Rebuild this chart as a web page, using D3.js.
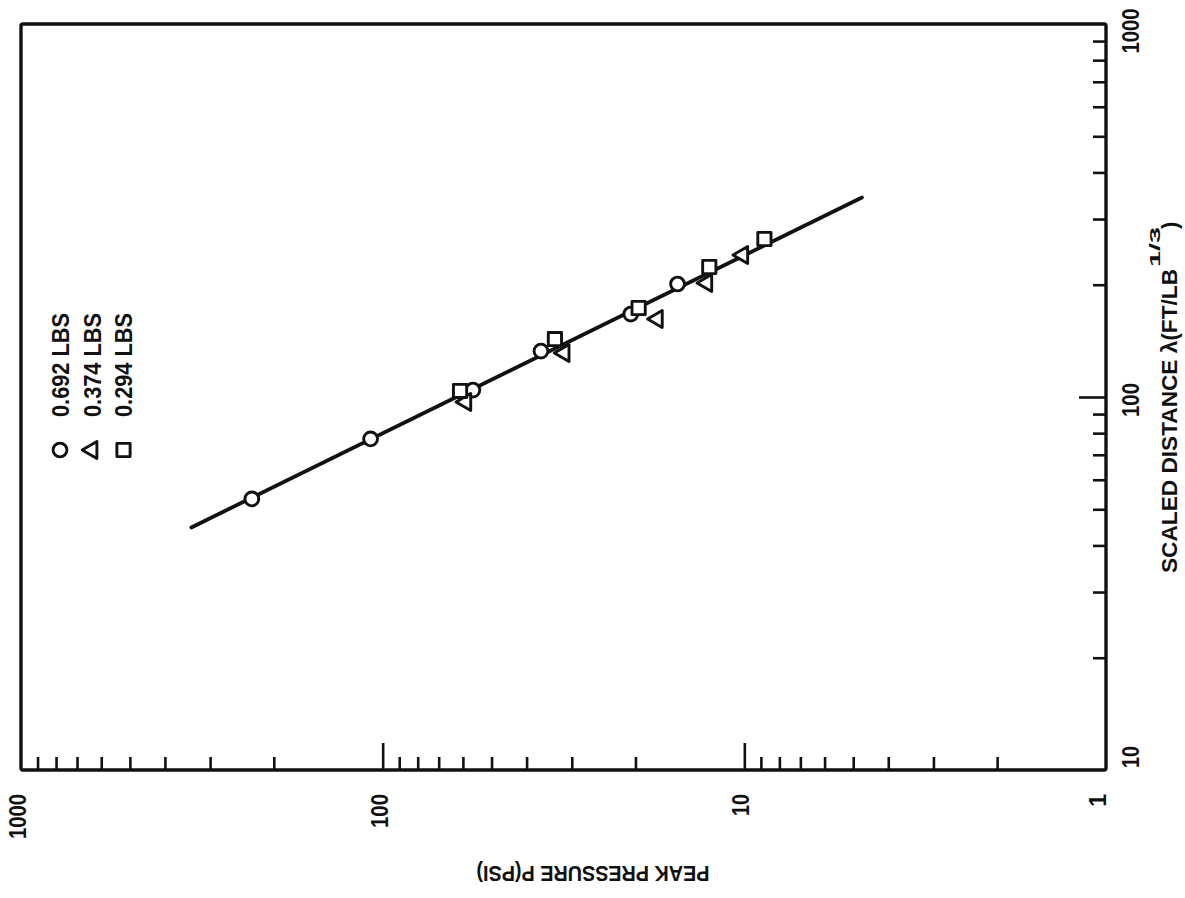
<!DOCTYPE html>
<html>
<head>
<meta charset="utf-8">
<script src="https://cdn.jsdelivr.net/npm/d3@7"></script>
<style>
  html, body { margin: 0; background: #fff; }
  svg { display: block; }
  text { font-family: "Liberation Sans", Arial, sans-serif; font-weight: bold; fill: #111; }
</style>
</head>
<body>
<svg id="chart" width="1185" height="898"></svg>
<script>
// Peak pressure vs scaled distance, laid out sideways:
// pressure runs along the bottom edge (1000 -> 1), distance up the right edge (10 -> 1000).

const pressureTickValues = [1000, 100, 10, 1];
const pressureTickLabels = ["1000", "100", "10", "1"];
const distanceTickValues = [1000, 100, 10];
const distanceTickLabels = ["1000", "100", "10"];

const chargeLabels = ["0.692 LBS", "0.374 LBS", "0.294 LBS"];
const chargeSymbols = ["circle", "triangle", "square"];

// [peak pressure (psi), scaled distance (ft/lb^1/3)]
const charge0692 = [[230, 53.3], [108, 77.2], [56.3, 104.4], [36.5, 132.8], [20.6, 166.9], [15.3, 200.9]];
const charge0374 = [[58.9, 97.0], [31.5, 131.2], [17.4, 161.9], [12.7, 202.1], [10.1, 240.3]];
const charge0294 = [[61.1, 103.8], [33.4, 143.0], [19.6, 173.2], [12.5, 223.1], [8.8, 265.2]];

// end points of the fitted line
const fitLine = [[338, 44.7], [4.73, 342.6]];

const svg = d3.select("#chart");
const frameL = 21, frameR = 1106, frameT = 24, frameB = 770;

const x = d3.scaleLog().domain([1000, 1]).range([frameL, frameR]);
const y = d3.scaleLog().domain([10, 1000]).range([frameB, frameT]);

const isDecade = v => Math.abs(Math.log10(v) - Math.round(Math.log10(v))) < 1e-9;

// ---- ticks (inside the frame) ----
const xMinor = x.ticks().filter(v => !isDecade(v));
const xMajor = [100, 10];
const yMinor = y.ticks().filter(v => !isDecade(v));
const yMajor = [100];

function styleAxis(g) {
  g.select(".domain").remove();
  g.selectAll(".tick line").attr("stroke", "#111").attr("stroke-width", 2.6);
  g.selectAll(".tick text").remove();
}

svg.append("g").attr("transform", `translate(0,${frameB})`)
  .call(d3.axisTop(x).tickValues(xMinor).tickSize(13).tickFormat(""))
  .call(styleAxis);
svg.append("g").attr("transform", `translate(0,${frameB})`)
  .call(d3.axisTop(x).tickValues(xMajor).tickSize(27).tickFormat(""))
  .call(styleAxis);
svg.append("g").attr("transform", `translate(${frameR},0)`)
  .call(d3.axisLeft(y).tickValues(yMinor).tickSize(13).tickFormat(""))
  .call(styleAxis);
svg.append("g").attr("transform", `translate(${frameR},0)`)
  .call(d3.axisLeft(y).tickValues(yMajor).tickSize(27).tickFormat(""))
  .call(styleAxis);

// ---- frame ----
svg.append("rect")
  .attr("x", frameL).attr("y", frameT)
  .attr("width", frameR - frameL).attr("height", frameB - frameT)
  .attr("fill", "none").attr("stroke", "#111").attr("stroke-width", 3.4)
  .attr("rx", 2);

// sideways text helper (reads bottom to top)
function sideText(g, str, bx, py, anchor, size, len) {
  const t = g.append("text")
    .attr("transform", `translate(${bx},${py}) rotate(-90)`)
    .attr("text-anchor", anchor)
    .attr("font-size", size)
    .text(str);
  if (len) t.attr("textLength", len).attr("lengthAdjust", "spacingAndGlyphs");
  return t;
}

// ---- pressure tick labels (below bottom edge) ----
const labelLens = { "1000": 45, "100": 34, "10": 22 };
pressureTickValues.forEach((v, i) => {
  const s = pressureTickLabels[i];
  sideText(svg, s, Math.min(x(v) + 5, frameR), 794, "end", 23, labelLens[s]);
});

// ---- distance tick labels (right of frame), kept clear of the corners ----
distanceTickValues.forEach((v, i) => {
  const s = distanceTickLabels[i];
  const py = Math.max(Math.min(y(v) + 3, frameB - 13), 31);
  sideText(svg, s, 1139, py, "middle", 23, labelLens[s]);
});

// ---- axis titles ----
svg.append("text")
  .attr("transform", "translate(593,866) rotate(180)")
  .attr("text-anchor", "middle")
  .attr("font-size", 22)
  .attr("textLength", 233).attr("lengthAdjust", "spacingAndGlyphs")
  .text("PEAK PRESSURE P(PSI)");

sideText(svg, "SCALED DISTANCE λ(FT/LB", 1177, 573, "start", 22, 304);
sideText(svg, "1/3", 1160, 267, "start", 15, 40);
sideText(svg, ")", 1177, 229, "start", 22);

// ---- fitted line ----
svg.append("path")
  .datum(fitLine)
  .attr("d", d3.line().x(d => x(d[0])).y(d => y(d[1])))
  .attr("fill", "none").attr("stroke", "#111").attr("stroke-width", 3.8)
  .attr("stroke-linecap", "round");

// ---- markers ----
const symbolGen = {
  circle: d3.symbol().type(d3.symbolCircle).size(150),
  square: d3.symbol().type(d3.symbolSquare).size(175),
  triangle: d3.symbol().type(d3.symbolTriangle).size(125)
};
const symbolRotate = { circle: 0, square: 0, triangle: -90 };

function drawMarkers(data, kind) {
  svg.append("g").selectAll("path")
    .data(data)
    .join("path")
    .attr("d", symbolGen[kind]())
    .attr("transform", d => `translate(${x(d[0])},${y(d[1])}) rotate(${symbolRotate[kind]})`)
    .attr("fill", "#fff").attr("stroke", "#111").attr("stroke-width", 2.9)
    .attr("stroke-linejoin", "round");
}
drawMarkers(charge0692, "circle");
drawMarkers(charge0374, "triangle");
drawMarkers(charge0294, "square");

// ---- legend ----
const legendCols = [60, 92, 123.5];
chargeLabels.forEach((s, i) => {
  const kind = chargeSymbols[i];
  svg.append("path")
    .attr("d", symbolGen[kind]())
    .attr("transform", `translate(${legendCols[i]},450) rotate(${symbolRotate[kind]})`)
    .attr("fill", "#fff").attr("stroke", "#111").attr("stroke-width", 2.9)
    .attr("stroke-linejoin", "round");
  sideText(svg, s, legendCols[i] + 8.5, 417, "start", 23, 104);
});
</script>
</body>
</html>
